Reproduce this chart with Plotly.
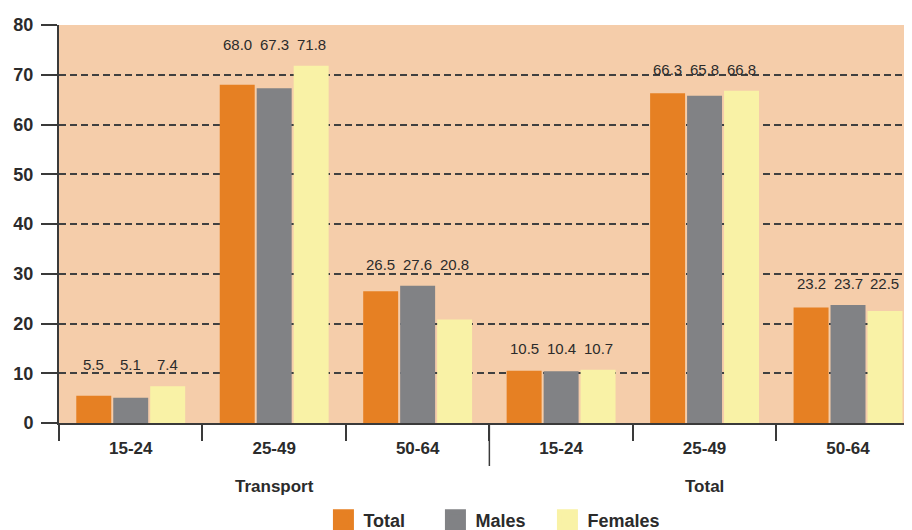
import plotly.graph_objects as go

sectors = ["Transport"] * 3 + ["Total"] * 3
ages = ["15-24", "25-49", "50-64"] * 2
series_names = ["Total", "Males", "Females"]
total = [5.5, 68.0, 26.5, 10.5, 66.3, 23.2]
males = [5.1, 67.3, 27.6, 10.4, 65.8, 23.7]
females = [7.4, 71.8, 20.8, 10.7, 66.8, 22.5]
y_ticks = [0, 10, 20, 30, 40, 50, 60, 70, 80]

colors = ["#E68023", "#818285", "#F9F2A6"]
FONT = "Liberation Sans, Arial, sans-serif"
TXT = "#2b2b2b"
LINE = "#3a3a3a"

keys = [f"{s}|{a}" for s, a in zip(sectors, ages)]
values = [total, males, females]
bargap = 0.227
slot = (1 - bargap) / 3

fig = go.Figure()
for name, vals, col in zip(series_names, values, colors):
    fig.add_trace(go.Bar(x=keys, y=vals, name=name, marker_color=col,
                         marker_line_width=0, showlegend=False))
    # legend proxies (bigger swatches)
    fig.add_trace(go.Scatter(x=[None], y=[None], xaxis="x2", yaxis="y2", mode="markers",
                             name=name, marker=dict(symbol="square", size=16, color=col,
                                                    line=dict(color=col, width=5))))

annotations = []
for i in range(len(keys)):
    gmax = max(v[i] for v in values)
    for k, vals in enumerate(values):
        annotations.append(dict(x=i + (k - 1) * slot, y=gmax, xref="x", yref="y",
                                text=f"{vals[i]:.1f}", showarrow=False, yanchor="bottom",
                                yshift=11, font=dict(family=FONT, size=15, color=TXT)))

# sector (group) labels below the age labels
shapes = []
group_names = list(dict.fromkeys(sectors))
for g in group_names:
    idx = [i for i, s in enumerate(sectors) if s == g]
    annotations.append(dict(x=sum(idx) / len(idx), y=0, xref="x", yref="paper",
                            text=g, showarrow=False, yanchor="middle", yshift=-63,
                            font=dict(family=FONT, size=17, color=TXT, weight="bold")))
    if idx[0] > 0:
        shapes.append(dict(type="line", xref="x", x0=idx[0] - 0.5, x1=idx[0] - 0.5,
                           yref="paper", ysizemode="pixel", yanchor=0, y0=0, y1=-43,
                           line=dict(color=LINE, width=1.5)))

fig.update_layout(
    width=904, height=522,
    margin=dict(l=51, r=0, t=17, b=107, autoexpand=False),
    paper_bgcolor="white", plot_bgcolor="#F5CDAA",
    barmode="group", bargap=bargap, bargroupgap=0.054,
    font=dict(family=FONT, color=TXT),
    annotations=annotations, shapes=shapes,
    legend=dict(orientation="h", x=0.31, xanchor="left", y=-0.244, yanchor="middle",
                entrywidth=67, entrywidthmode="pixels",
                font=dict(family=FONT, size=18, color=TXT, weight="bold"),
                bgcolor="rgba(0,0,0,0)"),
    xaxis=dict(type="category", range=[-0.5, 5.446], automargin=False, showline=True,
               linecolor=LINE, linewidth=2, ticks="outside", tickson="boundaries", ticklen=16,
               tickcolor=LINE, tickwidth=1.5, showgrid=False,
               tickvals=keys, ticktext=ages, ticklabelstandoff=9,
               tickfont=dict(family=FONT, size=17, color=TXT, weight="bold")),
    yaxis=dict(range=[0, 80], tickvals=y_ticks, automargin=False, showline=True,
               linecolor=LINE, linewidth=2, ticks="outside", ticklen=16, tickcolor=LINE,
               tickwidth=2, gridcolor="#404040", griddash="7px,4px", gridwidth=1.5,
               zeroline=False, ticklabelstandoff=4,
               tickfont=dict(family=FONT, size=18, color=TXT, weight="bold")),
    xaxis2=dict(visible=False, overlaying="x", range=[0, 1]),
    yaxis2=dict(visible=False, overlaying="y", range=[0, 1]),
)

fig.write_html("out.html")
